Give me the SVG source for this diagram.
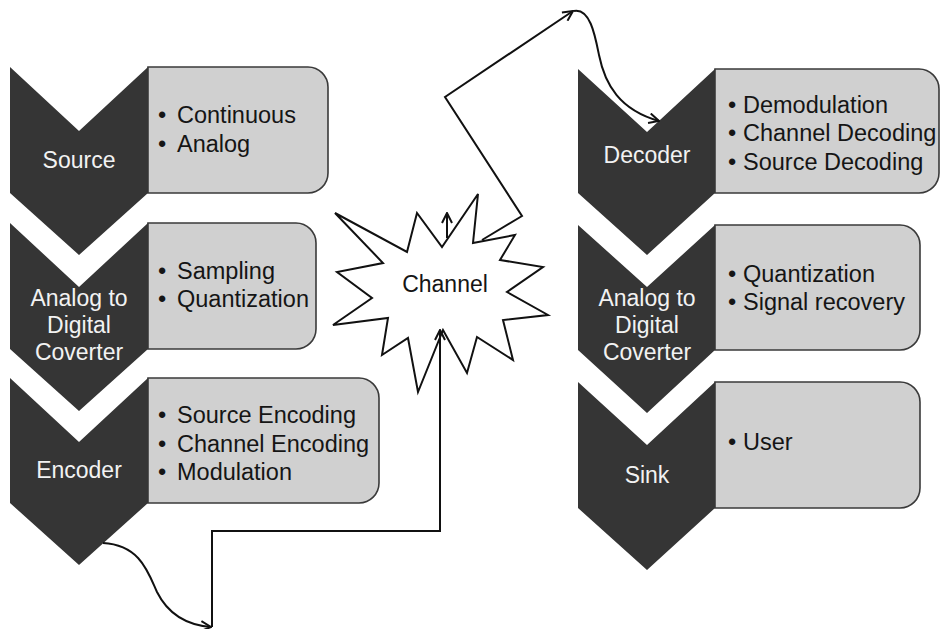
<svg xmlns="http://www.w3.org/2000/svg" width="942" height="629" viewBox="0 0 942 629">
  <defs>
    <style>
      .chev { fill: #353535; }
      .box { fill: #d0d0d0; stroke: #3a3a3a; stroke-width: 1.6; }
      .lbl { font-family: "Liberation Sans", Arial, sans-serif; font-size: 23px; fill: #f2f2f2; text-anchor: middle; }
      .item { font-family: "Liberation Sans", Arial, sans-serif; font-size: 23.5px; fill: #151515; }
      .wire { fill: none; stroke: #111; stroke-width: 2; }
      .star { fill: #ffffff; stroke: #111; stroke-width: 2; stroke-linejoin: miter; }
      .star-lbl { font-family: "Liberation Sans", Arial, sans-serif; font-size: 23px; fill: #151515; text-anchor: middle; }
    </style>
    <marker id="arrow" viewBox="0 0 12 12" refX="11" refY="6" markerWidth="12" markerHeight="12" markerUnits="userSpaceOnUse" orient="auto">
      <path d="M1,1 L11,6 L1,11" fill="none" stroke="#111" stroke-width="2"/>
    </marker>
  </defs>

  <rect width="942" height="629" fill="#ffffff"/>

  <!-- transmitter column: item panel first, chevron over its left edge -->
  <g id="source">
    <path class="box" d="M148,67 H308 A20,20 0 0 1 328,87 V173 A20,20 0 0 1 308,193 H148 Z"/>
    <path class="chev" d="M10,67 L79,131 L148,67 L148,193 L79,255 L10,193 Z"/>
    <text class="lbl" x="79" y="168">Source</text>
    <text class="item" y="123"><tspan x="158">•</tspan><tspan x="177">Continuous</tspan></text>
    <text class="item" y="152"><tspan x="158">•</tspan><tspan x="177">Analog</tspan></text>
  </g>

  <g id="adc-tx">
    <path class="box" d="M148,223 H296 A20,20 0 0 1 316,243 V329 A20,20 0 0 1 296,349 H148 Z"/>
    <path class="chev" d="M10,223 L79,287 L148,223 L148,349 L79,411 L10,349 Z"/>
    <text class="lbl" x="79" y="306">Analog to</text>
    <text class="lbl" x="79" y="333">Digital</text>
    <text class="lbl" x="79" y="360">Coverter</text>
    <text class="item" y="279"><tspan x="158">•</tspan><tspan x="177">Sampling</tspan></text>
    <text class="item" y="307"><tspan x="158">•</tspan><tspan x="177">Quantization</tspan></text>
  </g>

  <g id="encoder">
    <path class="box" d="M148,378 H359 A20,20 0 0 1 379,398 V483 A20,20 0 0 1 359,503 H148 Z"/>
    <path class="chev" d="M10,378 L79,442 L148,378 L148,503 L79,565 L10,503 Z"/>
    <text class="lbl" x="79" y="478">Encoder</text>
    <text class="item" y="423"><tspan x="158">•</tspan><tspan x="177">Source Encoding</tspan></text>
    <text class="item" y="452"><tspan x="158">•</tspan><tspan x="177">Channel Encoding</tspan></text>
    <text class="item" y="480"><tspan x="158">•</tspan><tspan x="177">Modulation</tspan></text>
  </g>

  <!-- receiver column -->
  <g id="decoder">
    <path class="box" d="M715,69 H919 A20,20 0 0 1 939,89 V173 A20,20 0 0 1 919,193 H715 Z"/>
    <path class="chev" d="M578,69 L647,132 L715,69 L715,193 L647,255 L578,193 Z"/>
    <text class="lbl" x="647" y="163">Decoder</text>
    <text class="item" y="113"><tspan x="728">•</tspan><tspan x="743">Demodulation</tspan></text>
    <text class="item" y="141"><tspan x="728">•</tspan><tspan x="743">Channel Decoding</tspan></text>
    <text class="item" y="170"><tspan x="728">•</tspan><tspan x="743">Source Decoding</tspan></text>
  </g>

  <g id="adc-rx">
    <path class="box" d="M715,225 H900 A20,20 0 0 1 920,245 V330 A20,20 0 0 1 900,350 H715 Z"/>
    <path class="chev" d="M578,225 L647,287 L715,225 L715,350 L647,413 L578,350 Z"/>
    <text class="lbl" x="647" y="306">Analog to</text>
    <text class="lbl" x="647" y="333">Digital</text>
    <text class="lbl" x="647" y="360">Coverter</text>
    <text class="item" y="282"><tspan x="728">•</tspan><tspan x="743">Quantization</tspan></text>
    <text class="item" y="310"><tspan x="728">•</tspan><tspan x="743">Signal recovery</tspan></text>
  </g>

  <g id="sink">
    <path class="box" d="M715,382 H900 A20,20 0 0 1 920,402 V488 A20,20 0 0 1 900,508 H715 Z"/>
    <path class="chev" d="M578,382 L647,445 L715,382 L715,508 L647,570 L578,508 Z"/>
    <text class="lbl" x="647" y="483">Sink</text>
    <text class="item" y="450"><tspan x="728">•</tspan><tspan x="743">User</tspan></text>
  </g>

  <!-- channel burst -->
  <g id="channel">
    <polygon class="star" points="335,213 407,252 417,213 442,247 478,194 473,243 515,235 500,260 543,267 507,292 548,315 503,320 513,360 477,337 467,373 443,330 418,392 408,338 382,355 388,318 333,325 372,298 337,272 383,263"/>
    <text class="star-lbl" x="445" y="292">Channel</text>
  </g>

  <!-- signal path -->
  <g id="connectors">
    <path class="wire" d="M103,543 C140,545 148,572 157,592 C168,614 186,625 211,627" marker-end="url(#arrow)"/>
    <path class="wire" d="M212,627 L212,531 L440,531 L440,330" marker-end="url(#arrow)"/>
    <path class="wire" d="M447,238 L447,213" marker-end="url(#arrow)"/>
    <path class="wire" d="M482,240 L522,216 L445,97 L573,11" marker-end="url(#arrow)"/>
    <path class="wire" d="M574,11 C590,8 595,35 599,55 C605,85 620,110 659,121" marker-end="url(#arrow)"/>
  </g>
</svg>
